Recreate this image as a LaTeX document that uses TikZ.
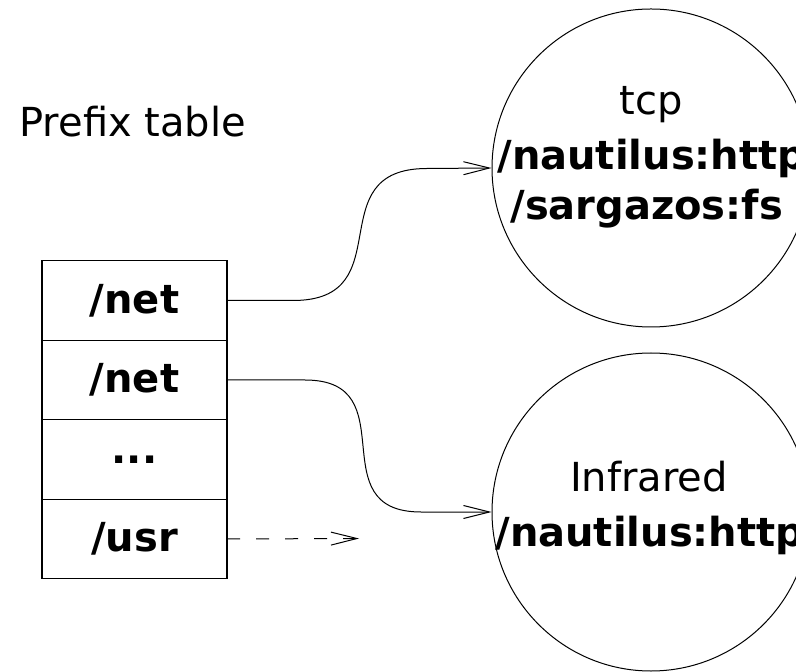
\documentclass[tikz,border=0pt]{standalone}
\usepackage{fontspec}
\setmainfont{DejaVu Sans}
\usepackage{tikz}
\usetikzlibrary{positioning, arrows.meta}
\newcommand{\bigtext}{\fontsize{20}{26}\selectfont}
\tikzstyle{cell} = [draw, line width=0.6pt, minimum width=92.5pt, minimum height=39.75pt, outer sep=0pt, inner sep=0pt, font=\bigtext\bfseries]
\tikzstyle{netcircle} = [draw, circle, line width=0.5pt, minimum size=159pt, inner sep=0pt]
\tikzstyle{plain} = [inner sep=0pt, font=\bigtext]
\tikzstyle{heavy} = [inner sep=0pt, font=\bigtext\bfseries]
\tikzstyle{link} = [line width=0.5pt, -{Straight Barb[length=13pt, width=6.5pt]}]

\begin{document}
\begin{tikzpicture}[x=0.5pt, y=-0.5pt]
\useasboundingbox (0,0) rectangle (796,672);

% prefix table
\node[plain, anchor=base west] (title) at (19,137) {Prefix table};
\node[cell] (r1) at (134.5,300.5) {/net};
\node[cell, below=0pt of r1] (r2) {/net};
\node[cell, below=0pt of r2] (r3) {...};
\node[cell, below=0pt of r3] (r4) {/usr};

% networks
\node[netcircle] (tcp) at (651,168) {};
\node[netcircle] (ir) at (651,512) {};
\node[plain, anchor=base] (tcpname) at (651,115) {tcp};
\node[heavy, anchor=base west] (tcpa) at (497,170) {/nautilus:http};
\node[heavy, anchor=base west] (tcpb) at (510,220) {/sargazos:fs};
\node[plain, anchor=base] (irname) at (649,492) {Infrared};
\node[heavy, anchor=base west] (ira) at (495,546) {/nautilus:http};

% mounts
\draw[link] (r1.east) -- ++(66,0) to[out=0, in=180, looseness=1.5] ++(134,-132) -- (tcp.west);
\draw[link] (r2.east) -- ++(78,0) to[out=0, in=180, looseness=1.5] ++(116,132) -- (ir.west);
\coordinate (usrend) at (359,538.5);
\draw[link, dash pattern=on 6.5pt off 8pt] (r4.east) -- (usrend);
\end{tikzpicture}
\end{document}
